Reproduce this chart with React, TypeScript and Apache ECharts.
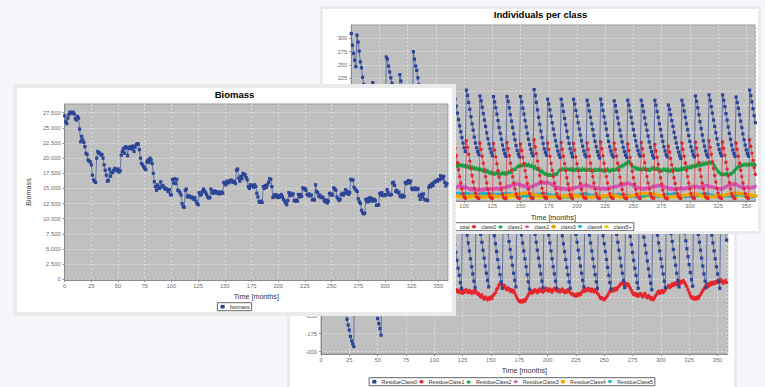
import React, { useEffect, useRef } from "react";
import * as echarts from "echarts";

const FONT = '"Liberation Sans", Arial, Helvetica, sans-serif';

// ---------- Biomass (values in thousands, month 0..358) ----------
const biomassK = [
  27.0, 26.0, 25.7, 26.6, 27.2, 27.6, 27.5, 27.4, 27.6, 27.3,
  26.5, 26.3, 26.9, 26.6, 24.8, 22.7, 23.6, 23.0, 22.6, 21.9,
  20.8, 20.6, 19.7, 19.5, 19.4, 18.9, 17.2, 16.4, 16.2, 16.0,
  20.0, 21.1, 20.9, 20.8, 20.5, 20.6, 20.0, 18.9, 18.0, 17.2,
  16.2, 16.3, 18.2, 17.0, 17.7, 17.6, 18.0, 18.3, 18.1, 17.9,
  18.2, 17.7, 17.9, 20.5, 21.1, 21.6, 20.8, 21.9, 21.7, 20.4,
  21.8, 21.6, 21.9, 21.5, 22.0, 21.1, 21.8, 22.2, 22.4, 22.3,
  21.4, 20.0, 19.1, 18.9, 18.6, 18.3, 18.1, 19.4, 19.7, 19.3,
  20.0, 19.7, 19.1, 17.5, 16.1, 15.3, 14.7, 15.6, 15.2, 15.0,
  16.1, 15.3, 15.5, 15.2, 14.9, 15.0, 14.8, 14.5, 14.8, 14.0,
  13.9, 16.5, 15.9, 16.6, 15.8, 16.5, 14.7, 14.6, 14.3, 13.9,
  12.5, 12.0, 11.9, 14.7, 14.9, 13.6, 13.8, 13.7, 13.5, 13.6,
  13.4, 13.2, 13.5, 12.9, 12.5, 12.3, 14.3, 13.9, 14.0, 14.5,
  14.9, 14.6, 14.3, 14.0, 13.6, 13.4, 13.5, 14.9, 14.4, 14.2,
  14.6, 14.3, 14.5, 14.2, 14.4, 14.1, 14.3, 14.4, 14.2, 16.0,
  15.8, 15.6, 16.2, 15.9, 16.0, 16.3, 16.4, 16.1, 16.0, 16.2,
  15.8, 18.0, 18.2, 16.7, 16.2, 17.0, 16.6, 17.5, 17.2, 17.3,
  16.8, 16.4, 15.3, 15.0, 15.6, 15.4, 15.5, 15.2, 15.6, 15.3,
  14.2, 13.6, 12.8, 12.7, 12.9, 12.7, 15.3, 15.0, 15.5, 15.2,
  15.6, 16.0, 16.6, 16.5, 15.3, 13.5, 13.8, 14.0, 13.6, 13.9,
  13.5, 13.8, 13.6, 14.0, 13.6, 13.2, 12.9, 12.6, 12.3, 13.0,
  14.3, 13.8, 14.2, 13.9, 14.1, 13.0, 12.9, 13.1, 12.9, 14.0,
  13.6, 14.0, 13.7, 15.1, 14.9, 15.0, 14.7, 14.0, 13.8, 14.1,
  13.8, 13.9, 13.1, 13.2, 13.1, 15.6, 14.5, 14.3, 13.7, 13.9,
  13.5, 13.6, 13.5, 13.0, 12.8, 13.1, 12.6, 12.9, 14.2, 13.9,
  14.1, 13.9, 15.1, 14.9, 14.7, 13.6, 13.3, 13.0, 13.2, 14.0,
  14.2, 13.9, 14.2, 14.8, 14.2, 14.5, 14.0, 14.3, 16.5, 16.4,
  16.4, 15.2, 14.9, 14.7, 14.5, 13.3, 12.8, 12.5, 11.4, 11.0,
  10.8, 10.9, 13.2, 12.8, 13.3, 12.8, 13.5, 13.0, 13.3, 12.9,
  13.2, 13.0, 12.2, 12.2, 12.3, 14.2, 13.9, 14.3, 13.9, 13.8,
  14.0, 13.9, 14.8, 14.3, 14.0, 13.9, 14.0, 15.9, 16.0, 15.5,
  14.5, 14.7, 14.3, 14.4, 13.8, 13.6, 13.9, 13.6, 13.7, 16.0,
  15.8, 16.1, 16.3, 15.9, 16.2, 15.0, 14.8, 14.9, 15.1, 14.8,
  14.9, 15.0, 13.8, 13.2, 14.0, 13.6, 14.1, 13.2, 13.1, 13.1,
  13.0, 15.2, 15.5, 15.3, 15.8, 15.5, 16.0, 16.1, 16.3, 16.2,
  16.5, 16.4, 17.1, 16.8, 16.6, 17.0, 16.0, 15.4, 15.8,
];

// ---------- Individuals per class (month 0..358) ----------
const totalIndividuals = [
  309, 287, 272, 259, 247,
  306, 293, 276, 256, 245, 227, 214, 203, 192, 181, 170, 160, 152, 145,
  217, 211, 202, 193, 181, 170, 160, 150, 141, 133, 126, 120,
  265, 261, 248, 237, 226, 216, 204, 192, 180, 168, 157, 148,
  232, 220, 209, 197, 185, 173, 162, 151, 140, 131, 123, 117,
  275, 261, 248, 240, 226, 213, 200, 187, 175, 163, 152, 143,
  205, 195, 184, 172, 160, 148, 137, 126, 116, 108, 101, 95,
  200, 190, 179, 167, 155, 143, 131, 120, 110, 101, 94, 88,
  196, 186, 173, 160, 148, 136, 125, 114, 104, 95, 88,
  203, 193, 180, 167, 153, 140, 128, 115, 104, 95, 88, 82,
  192, 183, 171, 159, 147, 135, 123, 112, 102, 93, 86, 80,
  191, 181, 170, 158, 146, 133, 122, 111, 100, 91, 84, 79,
  191, 182, 170, 157, 145, 133, 121, 110, 99, 90, 83, 78,
  191, 181, 169, 158, 146, 134, 122, 111, 101, 92, 85, 80,
  204, 193, 180, 166, 152, 139, 126, 114, 103, 93, 86, 81,
  186, 177, 166, 154, 142, 130, 119, 108, 98, 89, 82, 77,
  186, 175, 163, 150, 138, 126, 114, 103, 93, 85, 78,
  186, 177, 165, 154, 142, 130, 119, 108, 98, 89, 82, 78,
  184, 175, 164, 152, 140, 129, 118, 107, 97, 88, 81, 76,
  186, 176, 165, 153, 141, 130, 118, 107, 97, 89, 82, 78,
  183, 174, 163, 151, 140, 128, 117, 106, 96, 88, 81, 77,
  184, 175, 164, 152, 141, 129, 118, 108, 98, 90, 83, 79,
  184, 174, 163, 151, 139, 128, 117, 106, 96, 88, 81, 76,
  184, 175, 163, 152, 140, 129, 117, 107, 97, 89, 82, 78,
  175, 167, 157, 146, 135, 124, 114, 104, 95, 87, 80, 75,
  184, 175, 164, 152, 140, 129, 118, 107, 97, 89, 82, 78,
  192, 182, 170, 157, 144, 131, 119, 108, 98, 89, 82, 78,
  194, 184, 172, 160, 147, 135, 123, 112, 101, 92, 85, 80,
  194, 184, 172, 159, 147, 134, 122, 111, 100, 91, 84, 79,
  190, 180, 169, 157, 145, 133, 121, 110, 100, 91, 84, 79,
  203, 193, 181, 168, 155, 142,
];

const class0 = [
  140, 122, 105, 90, 76,
  135, 120, 104, 88, 74, 60, 47, 36, 26, 17, 10, 5, 2, 0,
  80, 70, 59, 48, 37, 27, 18, 10, 4, 1, 0, 0,
  125, 111, 97, 83, 69, 56, 43, 31, 20, 11, 4, 1,
  95, 84, 72, 60, 48, 37, 26, 16, 8, 3, 1, 0,
  130, 115, 100, 86, 72, 58, 45, 33, 21, 11, 4, 1,
  100, 88, 76, 63, 51, 39, 28, 18, 9, 3, 1, 0,
  105, 93, 80, 67, 54, 42, 30, 19, 10, 4, 1, 0,
  106, 94, 80, 67, 54, 41, 29, 18, 9, 3, 0,
  108, 96, 83, 70, 56, 43, 31, 19, 10, 3, 1, 0,
  104, 92, 79, 66, 53, 41, 29, 18, 9, 3, 1, 0,
  103, 91, 78, 65, 52, 40, 28, 17, 8, 2, 0, 0,
  105, 93, 80, 66, 53, 41, 29, 18, 9, 3, 1, 0,
  102, 90, 77, 65, 52, 40, 28, 17, 9, 3, 0, 0,
  110, 97, 84, 70, 56, 43, 31, 19, 10, 3, 1, 0,
  104, 92, 79, 66, 53, 41, 29, 18, 9, 3, 1, 0,
  105, 92, 79, 65, 52, 39, 27, 16, 7, 2, 0,
  103, 91, 78, 65, 52, 40, 28, 17, 8, 2, 1, 0,
  104, 92, 79, 66, 53, 41, 29, 18, 9, 3, 0, 0,
  106, 93, 80, 66, 53, 41, 29, 18, 9, 3, 1, 0,
  104, 92, 79, 66, 53, 40, 28, 17, 8, 2, 0, 0,
  102, 90, 77, 64, 51, 39, 27, 17, 8, 3, 1, 0,
  105, 93, 80, 67, 54, 41, 29, 18, 9, 3, 1, 0,
  101, 89, 77, 64, 51, 39, 27, 16, 8, 2, 0, 0,
  98, 87, 75, 63, 51, 39, 28, 18, 9, 3, 1, 0,
  104, 92, 79, 66, 53, 41, 29, 18, 9, 3, 1, 0,
  106, 94, 81, 67, 54, 41, 29, 18, 9, 3, 1, 0,
  108, 96, 83, 69, 56, 43, 31, 19, 10, 3, 1, 0,
  106, 94, 81, 68, 55, 42, 30, 18, 9, 3, 1, 0,
  104, 92, 79, 66, 53, 41, 29, 18, 9, 3, 1, 0,
  110, 98, 85, 71, 58, 45,
];

const class1 = [
  72, 71, 73, 70, 72, 74, 71, 73, 70, 72,
  71, 69, 72, 70, 68, 71, 69, 70, 67, 69,
  70, 68, 66, 69, 67, 65, 68, 66, 64, 67,
  65, 68, 66, 63, 66, 64, 62, 65, 63, 61,
  64, 62, 60, 63, 61, 59, 62, 60, 58, 61,
  59, 57, 60, 58, 61, 59, 62, 60, 63, 61,
  64, 62, 60, 63, 61, 58, 60, 57, 59, 56,
  58, 55, 57, 54, 56, 58, 55, 57, 59, 56,
  58, 60, 57, 59, 61, 58, 60, 62, 59, 61,
  63, 60, 62, 64, 61, 63, 65, 62, 64, 63,
  61, 63, 60, 62, 59, 61, 58, 60, 57, 59,
  56, 58, 55, 57, 54, 56, 53, 55, 52, 54,
  51, 53, 50, 48, 51, 47, 49, 46, 48, 50,
  47, 49, 46, 48, 50, 47, 49, 46, 48, 51,
  49, 52, 50, 54, 56, 55, 58, 60, 62, 61,
  64, 62, 65, 63, 66, 64, 62, 65, 63, 61,
  63, 60, 58, 61, 57, 55, 57, 53, 51, 53,
  50, 48, 46, 48, 45, 44, 46, 44, 45, 47,
  45, 47, 46, 50, 53, 55, 54, 57, 55, 56,
  54, 57, 55, 56, 54, 57, 55, 53, 56, 54,
  57, 55, 56, 53, 55, 57, 54, 56, 53, 55,
  54, 56, 53, 55, 52, 54, 56, 53, 55, 54,
  56, 53, 55, 54, 52, 55, 53, 56, 54, 52,
  55, 53, 56, 54, 55, 57, 56, 58, 61, 60,
  63, 62, 65, 67, 66, 69, 71, 68, 65, 62,
  60, 58, 59, 56, 58, 55, 57, 54, 56, 58,
  55, 57, 54, 56, 53, 55, 58, 56, 59, 57,
  55, 58, 56, 53, 55, 52, 54, 57, 55, 53,
  56, 54, 52, 55, 53, 56, 54, 57, 55, 53,
  56, 54, 57, 55, 58, 56, 59, 57, 60, 58,
  61, 59, 62, 60, 63, 61, 64, 62, 65, 63,
  66, 64, 67, 65, 68, 66, 67, 69, 68, 67,
  69, 66, 62, 58, 55, 52, 50, 48, 46, 47,
  45, 47, 46, 48, 45, 47, 46, 48, 50, 52,
  55, 57, 59, 61, 60, 62, 64, 63, 65, 64,
  66, 63, 65, 64, 66, 65, 63, 66, 64,
];

const class2 = [
  30, 32, 29, 31, 33, 30, 32, 29, 31, 28,
  30, 27, 29, 26, 28, 25, 27, 24, 26, 25,
  23, 25, 22, 24, 21, 23, 20, 22, 21, 23,
  20, 22, 24, 21, 23, 20, 22, 19, 21, 18,
  20, 22, 19, 21, 23, 20, 22, 24, 21, 23,
  20, 22, 19, 21, 18, 20, 22, 19, 21, 23,
  20, 22, 24, 21, 23, 20, 18, 21, 19, 17,
  20, 18, 21, 19, 22, 20, 23, 21, 19, 22,
  20, 18, 21, 19, 22, 24, 21, 23, 20, 22,
  19, 21, 23, 20, 22, 24, 21, 23, 20, 22,
  21, 19, 22, 20, 18, 17, 19, 16, 18, 17,
  15, 17, 16, 18, 16, 17, 15, 18, 16, 19,
  17, 16, 18, 17, 19, 18, 17, 19, 18, 20,
  18, 19, 17, 20, 19, 21, 20, 22, 23, 21,
  24, 23, 25, 26, 24, 27, 26, 28, 27, 25,
  26, 24, 23, 25, 22, 21, 23, 20, 22, 21,
  23, 22, 24, 26, 25, 27, 29, 28, 30, 29,
  31, 29, 30, 28, 31, 29, 27, 28, 25, 26,
  23, 21, 22, 19, 20, 18, 19, 17, 19, 18,
  17, 19, 18, 20, 17, 19, 18, 20, 19, 21,
  20, 22, 21, 23, 24, 22, 25, 24, 26, 25,
  23, 24, 22, 21, 23, 20, 19, 21, 18, 20,
  19, 17, 19, 18, 20, 17, 19, 18, 20, 19,
  21, 20, 22, 21, 23, 22, 24, 23, 25, 26,
  24, 27, 26, 28, 27, 29, 28, 26, 27, 25,
  23, 24, 22, 20, 21, 19, 20, 18, 19, 17,
  19, 18, 20, 19, 21, 20, 22, 21, 23, 22,
  24, 23, 25, 24, 23, 25, 22, 23, 21, 20,
  21, 19, 18, 20, 17, 19, 18, 16, 18, 17,
  19, 18, 20, 19, 17, 19, 18, 20, 19, 21,
  20, 22, 21, 23, 22, 21, 23, 22, 20, 22,
  21, 23, 22, 24, 23, 25, 24, 22, 23, 21,
  22, 20, 21, 19, 20, 18, 19, 17, 19, 18,
  20, 22, 21, 23, 25, 24, 26, 27, 25, 28,
  26, 27, 25, 24, 22, 23, 21, 20, 22, 21,
  20, 22, 21, 19, 21, 20, 22, 21, 23,
];

const class3 = [
  14, 15, 13, 14, 12, 13, 14, 12, 13, 11,
  12, 11, 13, 12, 10, 11, 12, 10, 11, 9,
  10, 11, 9, 10, 8, 9, 10, 8, 9, 10,
  8, 9, 7, 8, 9, 7, 8, 6, 7, 8,
  6, 7, 8, 6, 7, 5, 6, 7, 5, 6,
  7, 5, 6, 8, 6, 7, 5, 6, 4, 5,
  6, 4, 5, 7, 5, 6, 4, 5, 6, 4,
  5, 6, 4, 5, 3, 4, 5, 3, 4, 5,
  3, 4, 5, 3, 4, 6, 4, 5, 3, 4,
  5, 3, 4, 6, 4, 5, 3, 4, 2, 3,
  4, 3, 5, 4, 3, 5, 4, 6, 5, 4,
  3, 4, 3, 5, 4, 3, 4, 2, 3, 4,
  3, 5, 4, 3, 5, 4, 6, 5, 4, 3,
  4, 3, 5, 4, 6, 5, 4, 6, 5, 7,
  6, 5, 7, 6, 8, 7, 6, 8, 7, 9,
  8, 10, 9, 11, 10, 9, 11, 10, 9, 8,
  9, 7, 8, 6, 7, 5, 6, 4, 5, 3,
  4, 3, 5, 4, 3, 4, 2, 3, 4, 3,
  2, 3, 4, 3, 5, 4, 3, 5, 4, 6,
  5, 4, 6, 5, 7, 6, 5, 7, 6, 5,
  6, 4, 5, 3, 4, 3, 2, 3, 4, 3,
  2, 3, 2, 4, 3, 2, 3, 4, 3, 5,
  4, 3, 5, 4, 6, 5, 4, 6, 5, 7,
  6, 5, 7, 6, 5, 4, 5, 3, 4, 3,
  2, 3, 4, 3, 2, 3, 4, 5, 4, 6,
  5, 7, 6, 8, 7, 9, 8, 10, 9, 8,
  10, 9, 11, 10, 9, 8, 10, 9, 7, 8,
  6, 7, 5, 6, 4, 5, 3, 4, 3, 2,
  3, 4, 3, 2, 4, 3, 5, 4, 3, 5,
  4, 6, 5, 4, 6, 5, 7, 6, 8, 7,
  6, 8, 7, 9, 8, 7, 9, 8, 6, 7,
  5, 6, 4, 5, 3, 4, 3, 2, 3, 4,
  3, 2, 4, 3, 5, 4, 3, 5, 4, 6,
  5, 7, 6, 8, 7, 9, 8, 10, 9, 11,
  10, 9, 11, 10, 9, 8, 10, 9, 8, 7,
  8, 6, 7, 5, 6, 4, 5, 6, 4,
];

const class4 = [
  12, 11, 13, 12, 11, 12, 10, 11, 12, 10,
  11, 10, 12, 11, 10, 9, 11, 10, 9, 10,
  9, 10, 8, 9, 10, 8, 9, 8, 10, 9,
  8, 9, 10, 8, 9, 7, 8, 9, 7, 8,
  9, 7, 8, 6, 7, 8, 6, 7, 8, 6,
  7, 8, 6, 7, 5, 6, 7, 5, 6, 7,
  5, 6, 7, 5, 6, 8, 6, 7, 5, 6,
  7, 5, 6, 8, 6, 7, 5, 6, 7, 5,
  6, 7, 5, 6, 8, 6, 7, 8, 6, 7,
  8, 6, 7, 8, 6, 7, 9, 7, 8, 6,
  7, 8, 6, 7, 8, 6, 7, 5, 6, 7,
  5, 6, 7, 5, 6, 7, 8, 6, 7, 8,
  6, 7, 8, 6, 7, 5, 6, 7, 5, 6,
  7, 5, 6, 7, 8, 6, 7, 8, 6, 7,
  8, 7, 6, 7, 5, 6, 4, 5, 6, 4,
  5, 4, 3, 4, 5, 3, 4, 5, 3, 4,
  5, 6, 4, 5, 6, 7, 5, 6, 7, 8,
  6, 7, 8, 6, 7, 5, 6, 4, 5, 3,
  4, 5, 3, 4, 2, 3, 4, 3, 2, 3,
  4, 3, 2, 3, 4, 5, 3, 4, 5, 6,
  4, 5, 6, 7, 5, 6, 7, 8, 6, 7,
  5, 6, 4, 5, 3, 4, 5, 3, 4, 2,
  3, 4, 3, 2, 3, 4, 2, 3, 4, 5,
  4, 3, 5, 6, 4, 5, 6, 7, 6, 5,
  6, 4, 5, 3, 4, 5, 3, 4, 2, 3,
  4, 3, 2, 3, 4, 3, 5, 4, 3, 4,
  5, 4, 6, 5, 7, 6, 5, 4, 5, 3,
  4, 3, 2, 3, 4, 3, 4, 5, 4, 6,
  5, 7, 6, 5, 7, 6, 8, 7, 6, 5,
  6, 4, 5, 3, 4, 3, 2, 3, 4, 3,
  4, 3, 5, 4, 3, 4, 5, 4, 6, 5,
  6, 7, 6, 8, 7, 6, 7, 5, 6, 4,
  5, 3, 4, 3, 2, 3, 4, 3, 2, 4,
  3, 4, 5, 4, 3, 5, 4, 6, 5, 4,
  5, 6, 7, 6, 8, 7, 6, 5, 6, 4,
  5, 3, 4, 5, 3, 4, 2, 3, 4,
];

const class5plus = [
  9, 8, 9, 8, 9, 8, 7, 8, 7, 8,
  7, 8, 7, 6, 7, 6, 7, 6, 5, 6,
  6, 5, 6, 5, 6, 5, 4, 5, 4, 5,
  4, 5, 4, 5, 4, 3, 4, 3, 4, 3,
  4, 3, 4, 3, 2, 3, 2, 3, 4, 3,
  2, 3, 2, 3, 4, 3, 2, 3, 2, 3,
  4, 3, 2, 3, 2, 1, 2, 3, 2, 3,
  2, 3, 4, 3, 2, 3, 2, 1, 2, 3,
  2, 3, 2, 3, 4, 3, 2, 3, 2, 3,
  3, 2, 3, 4, 3, 2, 3, 2, 3, 4,
  3, 2, 3, 2, 1, 2, 3, 2, 3, 2,
  3, 4, 3, 2, 3, 2, 3, 4, 3, 2,
  2, 3, 2, 3, 4, 3, 4, 3, 2, 3,
  2, 3, 4, 3, 2, 3, 2, 3, 2, 1,
  2, 3, 2, 3, 4, 3, 2, 3, 2, 3,
  4, 3, 4, 5, 4, 3, 4, 3, 2, 3,
  2, 3, 2, 1, 2, 3, 2, 3, 2, 3,
  4, 3, 4, 5, 4, 5, 6, 5, 4, 5,
  4, 5, 4, 3, 4, 3, 2, 3, 2, 3,
  2, 3, 2, 3, 2, 1, 2, 3, 2, 3,
  2, 3, 4, 3, 4, 5, 4, 3, 4, 3,
  4, 5, 6, 5, 6, 5, 4, 5, 4, 3,
  4, 3, 2, 3, 2, 3, 2, 1, 2, 3,
  2, 3, 2, 3, 4, 3, 2, 3, 2, 3,
  4, 3, 4, 5, 4, 5, 6, 5, 6, 5,
  4, 5, 4, 3, 4, 3, 2, 3, 2, 3,
  2, 3, 4, 3, 4, 5, 4, 5, 6, 5,
  6, 7, 6, 7, 6, 5, 6, 5, 4, 5,
  4, 3, 4, 3, 2, 3, 2, 3, 2, 3,
  4, 3, 4, 5, 4, 5, 6, 5, 6, 7,
  6, 7, 6, 5, 6, 5, 4, 5, 4, 3,
  4, 3, 2, 3, 2, 3, 4, 3, 4, 5,
  4, 5, 6, 5, 6, 7, 6, 7, 6, 5,
  6, 5, 4, 5, 4, 3, 4, 3, 2, 3,
  2, 3, 4, 3, 4, 5, 4, 5, 6, 5,
  6, 7, 6, 7, 8, 7, 6, 7, 6,
];

// ---------- Residues (month 0..358) ----------
const residueClass0 = [
  30, 18, 5, -8, -20, -32,
  40, 26, 12, -2, -16, -30, -44, -58, -72, -86, -100, -114,
  -118, -123, -129, -136, -144, -155, -163, -170, -179, -185, -189, -193,
  -20, -30, -42, -54, -66, -78, -90, -102, -113, -124, -134, -142,
  -95, -102, -109, -116, -123, -130, -137, -144, -154, -161, -168, -177,
  -30, -40, -50, -60, -70, -80, -90, -100, -110, -118, -126, -132,
  -25, -36, -47, -58, -69, -80, -90, -100, -110, -118, -125, -130,
  -20, -31, -42, -53, -64, -75, -86, -96, -106, -115, -122, -128,
  -10, -22, -34, -46, -58, -70, -82, -93, -104, -114, -122,
  5, -7, -19, -31, -43, -55, -66, -77, -88, -98, -108, -116,
  8, -4, -16, -28, -40, -51, -62, -73, -84, -94, -104, -112,
  6, -5, -16, -27, -38, -49, -60, -71, -82, -92, -102, -111,
  8, -3, -14, -26, -37, -48, -59, -70, -81, -91, -101, -110,
  5, -6, -17, -28, -39, -50, -61, -72, -83, -93, -103, -112,
  10, -1, -12, -24, -35, -47, -58, -69, -80, -91, -101, -110,
  6, -5, -16, -27, -38, -49, -60, -71, -82, -93, -103, -113,
  7, -4, -15, -26, -37, -48, -59, -70, -81, -92, -102, -111,
  6, -5, -16, -27, -38, -49, -60, -71, -82, -92, -102, -112,
  5, -6, -17, -28, -39, -50, -61, -72, -83, -93, -103, -112,
  8, -3, -14, -26, -37, -48, -59, -70, -81, -91, -101, -110,
  6, -5, -16, -27, -38, -49, -60, -71, -82, -93, -103, -112,
  5, -6, -17, -28, -39, -50, -61, -72, -83, -94, -104, -113,
  7, -4, -15, -26, -37, -48, -59, -70, -81, -91, -101, -111,
  4, -7, -18, -29, -40, -51, -62, -73, -84, -94, -104, -112,
  3, -8, -19, -30, -41, -52, -63, -74, -85, -95, -105, -114,
  6, -5, -16, -27, -38, -49, -60, -71, -82, -92, -102, -111,
  8, -3, -14, -25, -36, -47, -58, -69, -80, -91, -101, -110,
  9, -2, -13, -24, -35, -46, -57, -68, -79, -90, -100, -109,
  7, -4, -15, -26, -37, -48, -59, -70, -81, -92, -102, -111,
  6, -5, -16, -27, -38, -49, -60, -71, -82, -92, -102, -112,
  10, -1, -12, -23, -34, -45,
];

const residueClass1 = [
  -120, -118, -121, -119, -122, -120, -118, -121, -123, -120,
  -122, -119, -121, -124, -122, -120, -123, -121, -119, -122,
  -124, -126, -123, -125, -127, -124, -122, -125, -123, -121,
  -119, -121, -118, -120, -117, -119, -121, -118, -120, -122,
  -119, -121, -123, -120, -118, -121, -119, -117, -120, -118,
  -121, -123, -125, -122, -124, -126, -123, -121, -124, -122,
  -120, -118, -121, -119, -117, -120, -118, -116, -119, -117,
  -115, -118, -116, -119, -121, -118, -120, -122, -119, -121,
  -123, -120, -118, -121, -119, -117, -120, -118, -116, -119,
  -117, -115, -118, -116, -119, -121, -118, -120, -117, -115,
  -118, -116, -114, -117, -115, -118, -120, -117, -119, -116,
  -114, -117, -115, -113, -116, -118, -115, -117, -114, -116,
  -114, -117, -115, -118, -116, -119, -115, -117, -114, -116,
  -118, -115, -117, -119, -116, -118, -115, -117, -120, -119,
  -122, -124, -121, -125, -127, -124, -126, -128, -125, -127,
  -124, -126, -122, -120, -118, -114, -112, -108, -106, -105,
  -107, -110, -108, -112, -114, -111, -113, -116, -114, -117,
  -115, -118, -122, -125, -128, -130, -131, -129, -131, -128,
  -130, -127, -124, -121, -118, -116, -119, -115, -117, -114,
  -116, -118, -115, -113, -116, -114, -117, -113, -115, -112,
  -114, -116, -113, -115, -117, -114, -112, -115, -113, -116,
  -114, -117, -115, -113, -116, -118, -115, -117, -114, -116,
  -118, -120, -119, -122, -121, -123, -120, -122, -119, -121,
  -118, -116, -114, -116, -113, -115, -112, -114, -116, -113,
  -115, -117, -114, -116, -119, -121, -124, -126, -125, -127,
  -128, -126, -124, -122, -119, -116, -114, -116, -113, -115,
  -112, -114, -111, -109, -107, -105, -106, -104, -107, -105,
  -108, -106, -109, -112, -115, -118, -121, -119, -122, -120,
  -123, -121, -119, -122, -124, -121, -119, -123, -125, -122,
  -124, -127, -125, -128, -126, -123, -121, -118, -116, -119,
  -117, -115, -118, -116, -114, -112, -110, -108, -111, -109,
  -106, -108, -105, -107, -104, -106, -103, -105, -102, -104,
  -101, -104, -107, -110, -114, -118, -122, -125, -124, -127,
  -125, -127, -124, -126, -123, -121, -118, -115, -113, -110,
  -108, -106, -109, -105, -107, -104, -106, -103, -105, -102,
  -104, -101, -103, -100, -102, -105, -103, -101, -104,
];

const residueSparseMonths = [0, 30, 60, 90, 120, 150, 180, 210, 240, 270, 300, 330, 358];
const residueClass2 = [5, -8, 3, -4, 6, -2, -9, 4, 7, -3, 2, -6, 1];
const residueClass3 = [-3, 4, -6, 2, -1, 5, 3, -4, -2, 6, -5, 3, -1];
const residueClass4 = [2, -1, 3, -2, 1, -3, 2, 0, -1, 2, -2, 1, 0];
const residueClass5 = [1, 0, -1, 1, 0, -1, 1, 0, 1, -1, 0, 1, 0];

// ---------- Tick values ----------
const biomassYTicks = [0, 2500, 5000, 7500, 10000, 12500, 15000, 17500, 20000, 22500, 25000, 27500];
const individualsYTicks = [0, 25, 50, 75, 100, 125, 150, 175, 200, 225, 250, 275, 300];
const individualsYLabels = [225, 250, 275, 300];
const residueYTicks = [-200, -175, -150, -125, -100, -75, -50, -25, 0, 25];
const residueYLabels = [-200, -175, -150];

// ---------- Colours ----------
const BLUE = "#2c4597";
const RED = "#e5262c";
const GREEN = "#1a9e43";
const PINK = "#d455b3";
const ORANGE = "#f4a400";
const CYAN = "#15b1c9";
const YELLOW = "#f0d400";

const DOWN_TRI = "path://M0,0L10,0L5,10Z";
const H_ELLIPSE = "path://M0,3A5,3 0 1,0 10,3A5,3 0 1,0 0,3Z";

function fmtDe(v: number) {
  if (v === 0) return "0";
  return (v / 1000).toFixed(3);
}

function lineSeries(
  name: string,
  values: number[],
  color: string,
  symbol: string,
  size: number | number[],
  z: number,
  xs?: number[]
) {
  return {
    type: "line",
    name,
    z,
    data: values.map((v, i) => [xs ? xs[i] : i, v]),
    symbol,
    symbolSize: size,
    showSymbol: true,
    itemStyle: { color },
    lineStyle: { color, width: 0.9, opacity: 0.7 },
    emphasis: { disabled: true },
    silent: true,
    clip: true,
  };
}

const axisLineStyle = { show: true, onZero: false, lineStyle: { color: "#8c8c8c", width: 1 } };
const splitStyle = { show: true, lineStyle: { color: "#e4e4e4", width: 0.8, type: [2, 2] } };
const tickLabelStyle = { fontSize: 5.8, color: "#6e6e6e", fontFamily: FONT };
const nameStyle = { fontSize: 7.2, color: "#333", fontFamily: FONT };

function xAxisTime(max: number, labelMin: number, margin: number, gap: number) {
  return {
    type: "value",
    min: 0,
    max,
    interval: 25,
    name: "Time [months]",
    nameLocation: "middle",
    nameGap: gap,
    nameTextStyle: nameStyle,
    axisLine: axisLineStyle,
    axisTick: { show: true, length: 2, lineStyle: { color: "#8c8c8c" } },
    axisLabel: {
      ...tickLabelStyle,
      margin,
      showMaxLabel: false,
      formatter: (v: number) => (v >= labelMin && v % 25 === 0 ? String(v) : ""),
    },
    splitLine: splitStyle,
  };
}

function legendOf(names: string[], top: number) {
  return {
    data: names,
    left: "center",
    top,
    orient: "horizontal",
    itemWidth: 4.5,
    itemHeight: 4.5,
    itemGap: 1,
    padding: [1.5, 2],
    borderColor: "#666",
    borderWidth: 1,
    borderRadius: 0,
    backgroundColor: "#fff",
    selectedMode: false,
    textStyle: { fontSize: 5.3, color: "#333", fontFamily: FONT },
  };
}

const gridBase = {
  show: true,
  backgroundColor: "#c0c0c0",
  borderColor: "#9a9a9a",
  borderWidth: 1,
  containLabel: false,
};

function biomassOption() {
  return {
    animation: false,
    textStyle: { fontFamily: FONT },
    title: {
      text: "Biomass",
      left: "center",
      top: 1,
      padding: 0,
      textStyle: { fontSize: 9.5, fontWeight: "bold", color: "#000", fontFamily: FONT },
    },
    grid: { ...gridBase, left: 37, top: 16, width: 394, height: 176 },
    xAxis: xAxisTime(359, 0, 2.5, 9.5),
    yAxis: {
      type: "value",
      min: -115,
      max: 28940,
      name: "Biomass",
      nameLocation: "middle",
      nameGap: 23,
      nameTextStyle: nameStyle,
      axisLine: axisLineStyle,
      axisTick: { show: true, length: 2, lineStyle: { color: "#8c8c8c" }, customValues: biomassYTicks },
      axisLabel: { ...tickLabelStyle, margin: 4, customValues: biomassYTicks, formatter: fmtDe },
      splitLine: splitStyle,
    },
    legend: legendOf(["biomass"], 214.7),
    series: [lineSeries("biomass", biomassK.map((v) => v * 1000), BLUE, "rect", 3.2, 5)],
  };
}

function individualsOption() {
  const names = ["total", "class0", "class1", "class2", "class3", "class4", "class5+"];
  return {
    animation: false,
    textStyle: { fontFamily: FONT },
    title: {
      text: "Individuals per class",
      left: "center",
      top: 0.5,
      padding: 0,
      textStyle: { fontSize: 9.5, fontWeight: "bold", color: "#000", fontFamily: FONT },
    },
    grid: { ...gridBase, left: 28.3, top: 16, width: 404, height: 176 },
    xAxis: xAxisTime(358, 100, 2, 8.5),
    yAxis: {
      type: "value",
      min: -4.7,
      max: 325,
      axisLine: axisLineStyle,
      axisTick: { show: true, length: 2, lineStyle: { color: "#8c8c8c" }, customValues: individualsYTicks },
      axisLabel: { ...tickLabelStyle, margin: 4, customValues: individualsYLabels },
      splitLine: splitStyle,
    },
    legend: legendOf(names, 213.7),
    series: [
      lineSeries("total", totalIndividuals, BLUE, "rect", 3.2, 12),
      lineSeries("class0", class0, RED, "circle", 3.4, 11),
      lineSeries("class1", class1, GREEN, "triangle", 3.8, 10),
      lineSeries("class2", class2, PINK, "diamond", 4, 9),
      lineSeries("class3", class3, ORANGE, "rect", [4.4, 2.2], 8),
      lineSeries("class4", class4, CYAN, DOWN_TRI, 3.8, 7),
      lineSeries("class5+", class5plus, YELLOW, H_ELLIPSE, [4.4, 2.4], 6),
    ],
  };
}

function residueOption() {
  const names = ["ResidueClass0", "ResidueClass1", "ResidueClass2", "ResidueClass3", "ResidueClass4", "ResidueClass5"];
  return {
    animation: false,
    textStyle: { fontFamily: FONT },
    grid: { ...gridBase, left: 31, top: 18.7, width: 406.7, height: 182.3 },
    xAxis: xAxisTime(359, 0, 2.5, 9.5),
    yAxis: {
      type: "value",
      min: -203.2,
      max: 50,
      axisLine: axisLineStyle,
      axisTick: { show: true, length: 2, lineStyle: { color: "#8c8c8c" }, customValues: residueYTicks },
      axisLabel: { ...tickLabelStyle, margin: 4, customValues: residueYLabels },
      splitLine: splitStyle,
    },
    legend: legendOf(names, 224.7),
    series: [
      lineSeries("ResidueClass0", residueClass0, BLUE, "rect", 3.2, 12),
      lineSeries("ResidueClass1", residueClass1, RED, "circle", 3.4, 11),
      lineSeries("ResidueClass2", residueClass2, GREEN, "triangle", 3.8, 10, residueSparseMonths),
      lineSeries("ResidueClass3", residueClass3, PINK, "diamond", 4, 9, residueSparseMonths),
      lineSeries("ResidueClass4", residueClass4, ORANGE, "rect", [4.4, 2.2], 8, residueSparseMonths),
      lineSeries("ResidueClass5", residueClass5, CYAN, DOWN_TRI, 3.8, 7, residueSparseMonths),
    ],
  };
}

const panelStyle = (left: number, top: number, w: number, h: number, border: number): React.CSSProperties => ({
  position: "absolute",
  left,
  top,
  width: w,
  height: h,
  boxSizing: "border-box",
  border: `${border}px solid #ebebeb`,
  background: "#ffffff",
  overflow: "hidden",
});

export default function App() {
  const resRef = useRef<HTMLDivElement>(null);
  const indRef = useRef<HTMLDivElement>(null);
  const bioRef = useRef<HTMLDivElement>(null);

  useEffect(() => {
    const charts: echarts.ECharts[] = [];
    if (resRef.current) {
      const c = echarts.init(resRef.current, undefined, { renderer: "svg" });
      c.setOption(residueOption() as any);
      charts.push(c);
    }
    if (indRef.current) {
      const c = echarts.init(indRef.current, undefined, { renderer: "svg" });
      c.setOption(individualsOption() as any);
      charts.push(c);
    }
    if (bioRef.current) {
      const c = echarts.init(bioRef.current, undefined, { renderer: "svg" });
      c.setOption(biomassOption() as any);
      charts.push(c);
    }
    return () => charts.forEach((c) => c.dispose());
  }, []);

  return (
    <div
      style={{
        position: "absolute",
        left: 0,
        top: 0,
        width: 765,
        height: 387,
        overflow: "hidden",
        background: "#f4f6f9",
      }}
    >
      <div style={panelStyle(287, 150, 450, 250, 3)}>
        <div ref={resRef} style={{ width: 444, height: 244 }} />
      </div>
      <div style={panelStyle(320, 6, 441, 228, 3)}>
        <div ref={indRef} style={{ width: 435, height: 222 }} />
      </div>
      <div style={panelStyle(13, 84, 443, 232, 4)}>
        <div ref={bioRef} style={{ width: 435, height: 224 }} />
      </div>
    </div>
  );
}
